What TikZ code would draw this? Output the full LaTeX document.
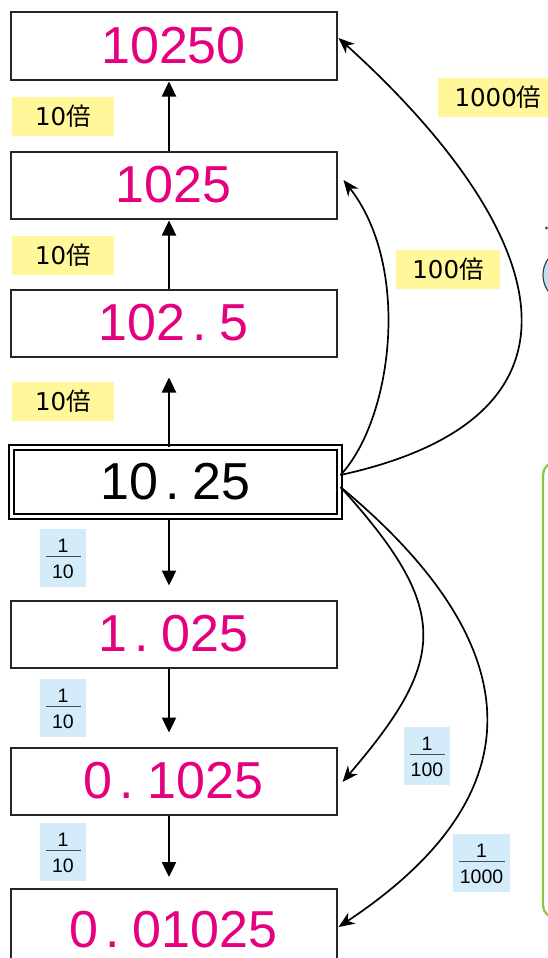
\documentclass[tikz,border=0pt]{standalone}
\usepackage{fontspec}
\setmainfont{Liberation Sans}
\newfontfamily\jpf{Noto Sans CJK JP}
\newfontfamily\dvs{DejaVu Sans}
\usetikzlibrary{arrows.meta,calc}
\definecolor{mag}{RGB}{228,0,127}
\definecolor{ylw}{RGB}{255,247,153}
\definecolor{lbl}{RGB}{212,236,250}
\definecolor{grn}{RGB}{140,198,63}
\definecolor{ellc}{RGB}{190,225,245}
\newcommand\fracnode[5]{%
  \node[fracbg, minimum width=#5] (#1) at (#2,#3) {};
  \node[fnum] (#1n) at ($(#1)+(0,-12)$) {1};
  \draw[fbar] ($(#1)+(-#5/2+5.5,-2)$) -- ($(#1)+(#5/2-5.5,-2)$);
  \node[fnum] (#1d) at ($(#1)+(0,14)$) {#4};
}
\newcommand\dpt{\kern7pt.\kern13pt}
\begin{document}
\begin{tikzpicture}[x=1pt,y=-1pt,
  numbox/.style={draw=black!85,line width=2pt,minimum width=326pt,minimum height=67pt,inner sep=0pt,font=\fontsize{52}{52}\selectfont,text=mag},
  mainbox/.style={draw=black,double=white,double distance=2.6pt,line width=2pt,minimum width=328pt,minimum height=69pt,inner sep=0pt,font=\fontsize{52}{52}\selectfont,text=black},
  varr/.style={line width=2.4pt,-{Triangle[length=15pt,width=14pt]}},
  carr/.style={line width=1.7pt,-{Stealth[length=16pt,width=13pt,inset=5pt]}},
  ylab/.style={fill=ylw,minimum height=39pt,inner sep=0pt},
  fracbg/.style={fill=lbl,minimum height=58pt,inner sep=0pt},
  fnum/.style={inner sep=0pt,font=\fontsize{19.5}{19.5}\selectfont,text=black},
  fbar/.style={line width=1pt,draw=black!70}
]
\useasboundingbox (0,0) rectangle (548,958);
\clip (0,0) rectangle (548,958);
\fill[white] (0,0) rectangle (548,958);

% partial shapes at right edge
\draw[grn,line width=2.2pt,rounded corners=13pt] (543,462) rectangle (620,918);
\fill[black!70] (546.5,228) circle (1.6pt);
\draw[black!75,fill=ellc,line width=1.2pt] (578,275) ellipse (35pt and 31pt);

% boxes
\node[numbox] (a) at (173.5,46) {10250};
\node[numbox] (b) at (173.5,185) {1025};
\node[numbox] (c) at (173.5,323) {102\dpt 5};
\node[mainbox] (d) at (175.5,482) {10\dpt 25};
\node[numbox] (e) at (173.5,634) {1\dpt 025};
\node[numbox] (f) at (173.5,781) {0\dpt 1025};
\node[numbox,minimum height=82pt] (g) at (173.5,930) {0\dpt 01025};

% vertical arrows (at x = 169)
\draw[varr,shorten >=1pt] ([xshift=-4.5pt]c.north) -- ([xshift=-4.5pt]b.south);
\draw[varr,shorten >=1pt] ([xshift=-4.5pt]b.north) -- ([xshift=-4.5pt]a.south);
\draw[varr,shorten >=20pt] ([xshift=-6.5pt]d.north) -- ([xshift=-4.5pt]c.south);
\draw[varr,shorten >=14pt] ([xshift=-6.5pt]d.south) -- ([xshift=-4.5pt]e.north);
\draw[varr,shorten >=14pt] ([xshift=-4.5pt]e.south) -- ([xshift=-4.5pt]f.north);
\draw[varr,shorten >=11pt] ([xshift=-4.5pt]f.south) -- ([xshift=-4.5pt]g.north);

% curved arrows
\coordinate (s1) at ($(d.east)+(0,-7)$);
\coordinate (s2) at ($(d.east)+(0,5)$);
\draw[carr] (s1) .. controls (615,415) and (545,225) .. ($(a.east)+(1,-8)$);
\draw[carr] (s1) .. controls (392,420) and (412,268) .. ($(b.east)+(6,-5)$);
\draw[carr] (s2) .. controls (452,610) and (447,660) .. ($(f.east)+(5,1)$);
\draw[carr] (s2) .. controls (525,640) and (545,790) .. ($(g.east)+(1,-3)$);

% yellow labels
\node[ylab,minimum width=102pt] (l1) at (63,116) {\dvs\fontsize{24.5}{24.5}\selectfont 10\jpf 倍};
\node[ylab,minimum width=102pt] (l2) at (63,255) {\dvs\fontsize{24.5}{24.5}\selectfont 10\jpf 倍};
\node[ylab,minimum width=102pt] (l3) at (63,401) {\dvs\fontsize{24.5}{24.5}\selectfont 10\jpf 倍};
\node[ylab,minimum width=120pt] (l4) at (498,97) {\dvs\fontsize{24.5}{24.5}\selectfont 1000\jpf 倍};
\node[ylab,minimum width=104pt] (l5) at (448,269) {\dvs\fontsize{24.5}{24.5}\selectfont 100\jpf 倍};

% fractions
\fracnode{f1}{63}{558}{10}{46}
\fracnode{f2}{63}{708}{10}{46}
\fracnode{f3}{63}{852}{10}{46}
\fracnode{f4}{427}{756}{100}{46}
\fracnode{f5}{481.5}{863}{1000}{57}
\end{tikzpicture}
\end{document}
